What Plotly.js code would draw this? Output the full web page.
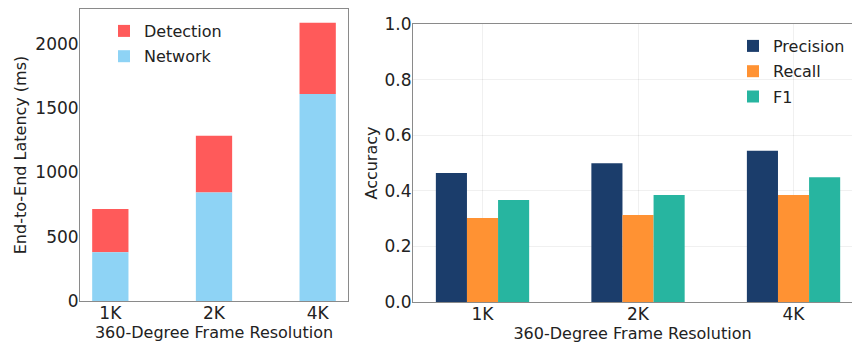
<!DOCTYPE html>
<html>
<head>
<meta charset="utf-8">
<script src="https://cdn.plot.ly/plotly-3.0.1.min.js"></script>
<style>html,body{margin:0;padding:0;background:#fff}#chart{width:852px;height:345px}</style>
</head>
<body>
<div id="chart"></div>
<script>
const resolutions = ['1K', '2K', '4K'];
const networkLatency = [380, 845, 1610];
const detectionLatency = [335, 440, 555];
const precision = [0.464, 0.499, 0.544];
const recall = [0.302, 0.313, 0.385];
const f1 = [0.367, 0.385, 0.449];
const latencyTicks = [0, 500, 1000, 1500, 2000];
const accuracyTicks = [0, 0.2, 0.4, 0.6, 0.8, 1.0];
const accuracyTickText = ['0.0', '0.2', '0.4', '0.6', '0.8', '1.0'];

const FONT = 'DejaVu Sans, sans-serif';
const W = 852, H = 345;
const px = v => v / W;
const py = v => 1 - v / H;

const traces = [
  {type: 'bar', name: 'Detection', x: resolutions, y: detectionLatency, base: networkLatency, xaxis: 'x', yaxis: 'y',
   marker: {color: '#ff5a5a', line: {width: 0}}, width: 0.35, offset: -0.175,
   legend: 'legend', legendgroup: 'det'},
  {type: 'bar', name: 'Network', x: resolutions, y: networkLatency, xaxis: 'x', yaxis: 'y',
   marker: {color: '#8ed3f5', line: {width: 0}}, width: 0.35, offset: -0.175,
   legend: 'legend', legendgroup: 'net'},
  {type: 'bar', name: 'Precision', x: resolutions, y: precision, xaxis: 'x2', yaxis: 'y2',
   marker: {color: '#1b3d6b', line: {width: 0}}, width: 0.2, offset: -0.3,
   legend: 'legend2', legendgroup: 'p'},
  {type: 'bar', name: 'Recall', x: resolutions, y: recall, xaxis: 'x2', yaxis: 'y2',
   marker: {color: '#ff9233', line: {width: 0}}, width: 0.2, offset: -0.1,
   legend: 'legend2', legendgroup: 'r'},
  {type: 'bar', name: 'F1', x: resolutions, y: f1, xaxis: 'x2', yaxis: 'y2',
   marker: {color: '#27b5a0', line: {width: 0}}, width: 0.2, offset: 0.1,
   legend: 'legend2', legendgroup: 'f'}
];

const tickFont = {family: FONT, size: 17, color: '#222'};
const titleFont = {family: FONT, size: 16, color: '#222'};
const frame = '#8a8a8a';

const layout = {
  width: W, height: H,
  margin: {l: 0, r: 0, t: 0, b: 0},
  paper_bgcolor: '#fff', plot_bgcolor: '#fff',
  barmode: 'overlay',
  font: {family: FONT, color: '#222'},
  xaxis: {
    domain: [px(80), px(348)], anchor: 'y', type: 'category',
    range: [-0.2925, 2.2925], showgrid: false, zeroline: false,
    showline: true, linecolor: frame, linewidth: 1, mirror: true,
    ticks: '', ticklabelstandoff: -3, tickfont: tickFont,
    title: {text: '360-Degree Frame Resolution', font: titleFont, standoff: 1},
    automargin: false
  },
  yaxis: {
    domain: [py(301), py(9)], anchor: 'x',
    range: [0, 2272], showgrid: false, zeroline: false,
    showline: true, linecolor: frame, linewidth: 1, mirror: true,
    tickvals: latencyTicks, ticks: '', ticklabelstandoff: -3, tickfont: tickFont,
    title: {text: 'End-to-End Latency (ms)', font: titleFont, standoff: 4},
    automargin: false
  },
  xaxis2: {
    domain: [px(413), 1], anchor: 'y2', type: 'category',
    range: [-0.447, 2.376], showgrid: true, gridcolor: 'rgba(0,0,0,0.06)', zeroline: false,
    showline: true, linecolor: frame, linewidth: 1, mirror: true,
    ticks: '', ticklabelstandoff: -3, tickfont: tickFont,
    title: {text: '360-Degree Frame Resolution', font: titleFont, standoff: 1},
    automargin: false
  },
  yaxis2: {
    domain: [py(302), py(24)], anchor: 'x2',
    range: [0, 1], showgrid: true, gridcolor: 'rgba(0,0,0,0.06)', zeroline: false,
    showline: true, linecolor: frame, linewidth: 1,
    tickvals: accuracyTicks, ticktext: accuracyTickText,
    ticks: '', ticklabelstandoff: -3, tickfont: tickFont,
    title: {text: 'Accuracy', font: titleFont, standoff: 2},
    automargin: false
  },
  legend: {
    x: px(104), y: py(14), xanchor: 'left', yanchor: 'top',
    bgcolor: 'rgba(255,255,255,0)', borderwidth: 0,
    font: {family: FONT, size: 16, color: '#222'},
    traceorder: 'grouped', tracegroupgap: 1.5
  },
  legend2: {
    x: px(733), y: py(29), xanchor: 'left', yanchor: 'top',
    bgcolor: 'rgba(255,255,255,0)', borderwidth: 0,
    font: {family: FONT, size: 16, color: '#222'},
    traceorder: 'grouped', tracegroupgap: 1.5
  },
  showlegend: true
};

Plotly.newPlot('chart', traces, layout, {staticPlot: true, displayModeBar: false});
</script>
</body>
</html>
